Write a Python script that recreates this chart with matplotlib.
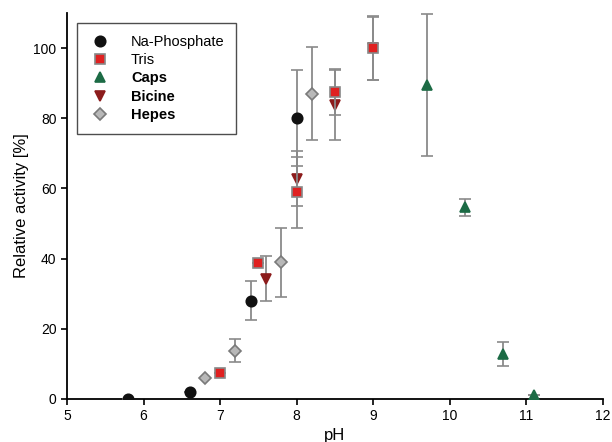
import matplotlib
matplotlib.use("Agg")
import matplotlib.pyplot as plt
from matplotlib.lines import Line2D

plt.rcParams['font.family'] = ['Liberation Sans', 'DejaVu Sans']

# Data
naP_x = [5.8, 6.6, 7.4, 8.0]
naP_y = [0, 2, 28, 80]
naP_e = [0, 0, 5.5, 13.7]

tris_x = [7.0, 7.5, 8.0, 8.5, 9.0]
tris_y = [7.5, 38.8, 58.9, 87.5, 100]
tris_e = [0, 0, 10.1, 6.6, 9.2]

caps_x = [9.7, 10.2, 10.7, 11.1]
caps_y = [89.5, 54.6, 12.9, 1.0]
caps_e = [20.2, 2.5, 3.4, 0]

bic_x = [7.6, 8.0, 8.5, 9.0]
bic_y = [34.3, 62.8, 83.7, 100]
bic_e = [6.4, 7.9, 10.0, 9.0]

hep_x = [6.8, 7.2, 7.8, 8.2]
hep_y = [6, 13.8, 38.9, 87]
hep_e = [0, 3.3, 9.8, 13.3]

xticks = [5, 6, 7, 8, 9, 10, 11, 12]
yticks = [0, 20, 40, 60, 80, 100]

fig = plt.figure(figsize=(6.12, 4.42), dpi=100)
ax = fig.add_axes([67/612, 1 - 399/442, (603-67)/612, (399-13)/442])

ecol = '#8a8a8a'
common = dict(linestyle='none', ecolor=ecol, elinewidth=1.3, capsize=4.5, capthick=1.3)

series = [
    (naP_x, naP_y, naP_e, 'Na-Phosphate', 'o', '#111111', '#111111', 7.5, 3),
    (caps_x, caps_y, caps_e, 'Caps', '^', '#1c6b45', '#1c6b45', 7, 3),
    (bic_x, bic_y, bic_e, 'Bicine', 'v', '#8c1c1c', '#8c1c1c', 7, 3),
    (tris_x, tris_y, tris_e, 'Tris', 's', '#e02020', '#888888', 6.5, 4),
    (hep_x, hep_y, hep_e, 'Hepes', 'D', '#b8b8b8', '#7a7a7a', 6, 3),
]
handles = {}
for x, y, e, lab, m, fc, ec, ms, z in series:
    ax.errorbar(x, y, yerr=e, marker=m, markerfacecolor=fc, markeredgecolor=ec,
                markeredgewidth=1.2, markersize=ms, zorder=z, **common)
    handles[lab] = Line2D([], [], linestyle='none', marker=m, markerfacecolor=fc,
                          markeredgecolor=ec, markeredgewidth=1.2, markersize=ms)

ax.set_xlim(5, 12)
ax.set_ylim(0, 110)
ax.set_xticks(xticks)
ax.set_yticks(yticks)
ax.spines['top'].set_visible(False)
ax.spines['right'].set_visible(False)
for s in ['left', 'bottom']:
    ax.spines[s].set_linewidth(1.3)
ax.tick_params(direction='out', length=4.5, width=1.2, labelsize=10, pad=3)
ax.set_xlabel('pH', fontsize=12, labelpad=3)
ax.set_ylabel('Relative activity [%]', fontsize=12, labelpad=3)

order = ['Na-Phosphate', 'Tris', 'Caps', 'Bicine', 'Hepes']
leg = ax.legend([handles[k] for k in order], order, loc='upper left',
                bbox_to_anchor=(10/536, 1 - 10/386),
                frameon=True, fancybox=False, edgecolor='#222222', fontsize=10.5,
                handletextpad=1.3, borderpad=0.8, borderaxespad=0,
                labelspacing=0.3, handlelength=1.6)
leg.get_frame().set_linewidth(1.0)
for t in leg.get_texts()[2:]:
    t.set_fontweight('bold')

fig.savefig('out.png', dpi=100)
